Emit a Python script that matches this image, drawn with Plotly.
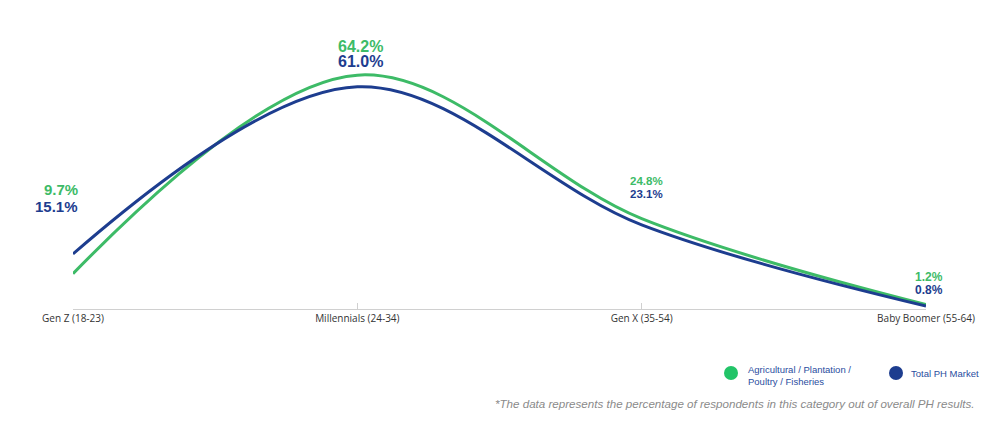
import plotly.graph_objects as go

categories = ["Gen Z (18-23)", "Millennials (24-34)", "Gen X (35-54)", "Baby Boomer (55-64)"]
agri = [9.7, 64.2, 24.8, 1.2]
total = [15.1, 61.0, 23.1, 0.8]
agri_name = "Agricultural / Plantation /<br>Poultry / Fisheries"
total_name = "Total PH Market"
footnote = "*The data represents the percentage of respondents in this category out of overall PH results."

GREEN = "#3dbb67"
BLUE = "#1d3d8f"
xs = list(range(len(categories)))

# page has an 8px body margin; screen coordinates are converted accordingly
OFF = 8
W, H = 1002, 423
PLOT_L, PLOT_R, PLOT_T, PLOT_B = 73, 926, 54, 309  # target screen coordinates

fig = go.Figure()
fig.add_trace(go.Scatter(x=xs, y=agri, mode="lines", line=dict(color=GREEN, width=3, shape="spline", smoothing=1.0),
                         showlegend=False, hoverinfo="skip"))
fig.add_trace(go.Scatter(x=xs, y=total, mode="lines", line=dict(color=BLUE, width=3, shape="spline", smoothing=1.0),
                         showlegend=False, hoverinfo="skip"))

def ppx(sx):
    return (sx - PLOT_L) / (PLOT_R - PLOT_L)

def ppy(sy):
    return 1 - (sy - PLOT_T) / (PLOT_B - PLOT_T)

fonts = "Liberation Sans, Arial, sans-serif"
# (screen x, screen y of top label, font size, gap, anchor)
label_pos = [(80, 189, 15, 17, "right"), (361, 46, 16, 15.5, "center"),
             (646, 181, 11.5, 12.5, "center"), (929, 277, 12, 13, "center")]
for i, (px, py, sz, gap, anc) in enumerate(label_pos):
    xs_shift = px - (PLOT_L + i * (PLOT_R - PLOT_L) / 3)
    fig.add_annotation(x=xs[i], xref="x", xshift=xs_shift, xanchor=anc,
                       y=ppy(py), yref="paper", yanchor="middle",
                       text=f"<b>{agri[i]:.1f}%</b>", showarrow=False,
                       font=dict(family=fonts, size=sz, color=GREEN))
    fig.add_annotation(x=xs[i], xref="x", xshift=xs_shift, xanchor=anc,
                       y=ppy(py + gap), yref="paper", yanchor="middle",
                       text=f"<b>{total[i]:.1f}%</b>", showarrow=False,
                       font=dict(family=fonts, size=sz, color=BLUE))

# custom legend
fig.add_shape(type="circle", xref="paper", yref="paper", xsizemode="pixel", ysizemode="pixel",
              xanchor=ppx(731), yanchor=ppy(373), x0=-7, x1=7, y0=-7, y1=7,
              fillcolor="#22c468", line=dict(width=0))
fig.add_shape(type="circle", xref="paper", yref="paper", xsizemode="pixel", ysizemode="pixel",
              xanchor=ppx(896), yanchor=ppy(373), x0=-7, x1=7, y0=-7, y1=7,
              fillcolor=BLUE, line=dict(width=0))
fig.add_annotation(xref="paper", yref="paper", x=ppx(746), y=ppy(375), xanchor="left", yanchor="middle",
                   text=agri_name, showarrow=False, align="left",
                   font=dict(family=fonts, size=9.5, color="#2a4da0"))
fig.add_annotation(xref="paper", yref="paper", x=ppx(909), y=ppy(373), xanchor="left", yanchor="middle",
                   text=total_name, showarrow=False, align="left",
                   font=dict(family=fonts, size=9.5, color="#2a4da0"))
fig.add_annotation(xref="paper", yref="paper", x=ppx(976), y=ppy(403), xanchor="right", yanchor="middle",
                   text=f"<i>{footnote}</i>", showarrow=False,
                   font=dict(family=fonts, size=11.6, color="#8a8a8a"))

fig.update_layout(
    width=W, height=H,
    margin=dict(l=PLOT_L - OFF, r=W + OFF - PLOT_R, t=PLOT_T - OFF, b=H + OFF - PLOT_B),
    paper_bgcolor="white", plot_bgcolor="white",
    xaxis=dict(range=[0, 3], tickvals=xs, ticktext=categories, showgrid=False, zeroline=False,
               showline=True, linecolor="#d0d0d0", linewidth=1,
               ticks="inside", ticklen=6, tickcolor="#d0d0d0",
               tickfont=dict(family="Open Sans, sans-serif", size=10, color="#333333")),
    yaxis=dict(range=[0, 70], visible=False, showgrid=False, zeroline=False),
)

fig.write_html("out.html")
